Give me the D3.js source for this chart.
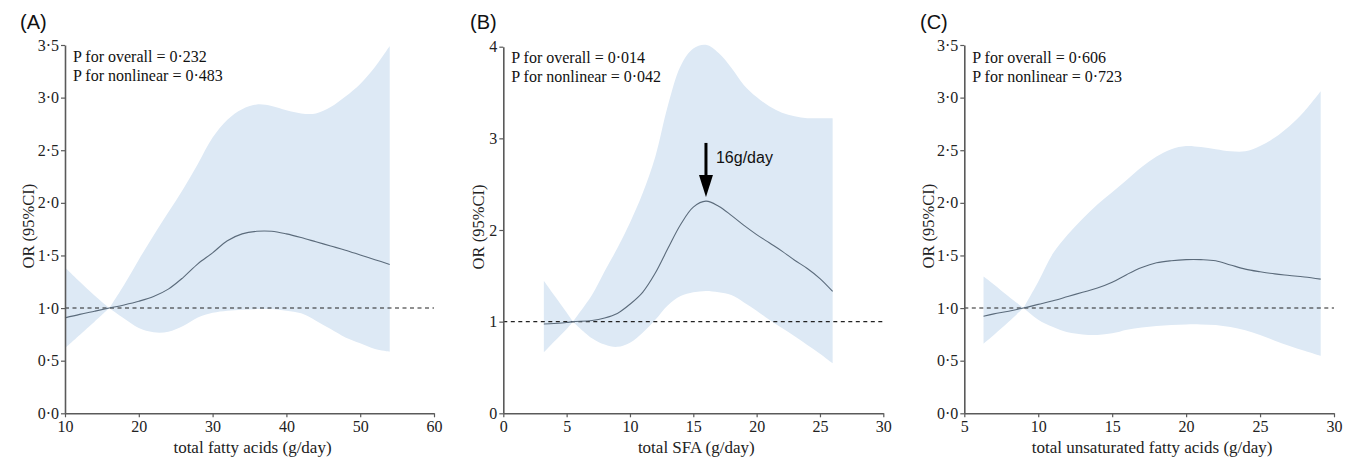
<!DOCTYPE html>
<html><head><meta charset="utf-8">
<script src="https://cdn.jsdelivr.net/npm/d3@7"></script>
<style>
body{margin:0;background:#fff;}
svg{display:block;}
</style></head>
<body>
<svg id="chart" width="1353" height="458"></svg>
<script>
// ---- Data ----
const panelLabels = ["(A)", "(B)", "(C)"];
const xTitles = ["total fatty acids (g/day)", "total SFA (g/day)", "total unsaturated fatty acids (g/day)"];
const yTitle = "OR (95%CI)";
const pOverall = ["P for overall = 0·232", "P for overall = 0·014", "P for overall = 0·606"];
const pNonlinear = ["P for nonlinear = 0·483", "P for nonlinear = 0·042", "P for nonlinear = 0·723"];

const xTicksA = [10, 20, 30, 40, 50, 60];
const yTicksA = [0, 0.5, 1, 1.5, 2, 2.5, 3, 3.5];
const xA = [10, 12, 14, 16, 18, 20, 22, 24, 26, 28, 30, 32, 34, 36, 38, 40, 42, 44, 46, 48, 50, 52, 54];
const orA = [0.907, 0.94, 0.97, 1.0, 1.03, 1.065, 1.11, 1.18, 1.29, 1.42, 1.525, 1.64, 1.705, 1.73, 1.73, 1.705, 1.67, 1.63, 1.59, 1.55, 1.505, 1.46, 1.415];
const upA = [1.385, 1.25, 1.12, 1.0, 1.22, 1.46, 1.69, 1.91, 2.13, 2.37, 2.62, 2.79, 2.89, 2.935, 2.92, 2.88, 2.85, 2.85, 2.91, 3.01, 3.13, 3.29, 3.49];
const loA = [0.62, 0.745, 0.87, 1.0, 0.90, 0.81, 0.77, 0.775, 0.83, 0.91, 0.955, 0.975, 0.985, 0.99, 0.99, 0.975, 0.95, 0.88, 0.80, 0.72, 0.665, 0.61, 0.585];

const xTicksB = [0, 5, 10, 15, 20, 25, 30];
const yTicksB = [0, 1, 2, 3, 4];
const xB = [3.2, 4, 5, 5.5, 7, 8, 9, 10, 11, 12, 13, 14, 15, 16, 17, 18, 19, 20, 21, 22, 23, 24, 25, 26];
const orB = [0.975, 0.98, 0.99, 1.0, 1.012, 1.04, 1.09, 1.19, 1.32, 1.53, 1.80, 2.06, 2.25, 2.315, 2.26, 2.16, 2.05, 1.95, 1.86, 1.77, 1.67, 1.58, 1.47, 1.33];
const upB = [1.446, 1.29, 1.10, 1.0, 1.29, 1.55, 1.80, 2.08, 2.40, 2.80, 3.36, 3.79, 3.98, 4.02, 3.93, 3.77, 3.58, 3.45, 3.35, 3.28, 3.24, 3.22, 3.22, 3.22];
const loB = [0.665, 0.78, 0.92, 1.0, 0.82, 0.75, 0.725, 0.77, 0.88, 1.02, 1.18, 1.28, 1.32, 1.335, 1.32, 1.29, 1.21, 1.12, 1.02, 0.93, 0.84, 0.745, 0.65, 0.545];

const xTicksC = [5, 10, 15, 20, 25, 30];
const yTicksC = [0, 0.5, 1, 1.5, 2, 2.5, 3, 3.5];
const xC = [6.3, 7, 8, 9, 10, 11, 12, 13, 14, 15, 16, 17, 18, 19, 20, 21, 22, 23, 24, 25, 26, 27, 28, 29.1];
const orC = [0.923, 0.945, 0.97, 1.0, 1.035, 1.07, 1.11, 1.15, 1.19, 1.245, 1.32, 1.385, 1.43, 1.45, 1.46, 1.46, 1.45, 1.41, 1.37, 1.345, 1.325, 1.31, 1.295, 1.275];
const upC = [1.30, 1.225, 1.11, 1.0, 1.25, 1.52, 1.70, 1.85, 1.985, 2.1, 2.22, 2.34, 2.44, 2.51, 2.54, 2.53, 2.51, 2.49, 2.49, 2.54, 2.62, 2.73, 2.87, 3.06];
const loC = [0.662, 0.745, 0.87, 1.0, 0.89, 0.82, 0.77, 0.75, 0.745, 0.76, 0.795, 0.815, 0.83, 0.84, 0.845, 0.845, 0.84, 0.82, 0.79, 0.745, 0.69, 0.64, 0.595, 0.547];

const arrowB = {x: 16, from: 2.95, to: 2.36, label: "16g/day"};

// ---- Layout ----
const svg = d3.select("#chart");
const panels = [
  {x: xA, or: orA, up: upA, lo: loA, xd: [10, 60], yd: [0, 3.5], xt: xTicksA, yt: yTicksA, xr: [65, 434], yr: [413.3, 45], fmt: d => d.toFixed(1).replace(".", "·"), lx: 20, ylx: 28, ty: 62},
  {x: xB, or: orB, up: upB, lo: loB, xd: [0, 30], yd: [0, 4], xt: xTicksB, yt: yTicksB, xr: [503.3, 883.3], yr: [413.3, 46.7], fmt: d => String(d), lx: 470, ylx: 478, ty: 63},
  {x: xC, or: orC, up: upC, lo: loC, xd: [5, 30], yd: [0, 3.5], xt: xTicksC, yt: yTicksC, xr: [964.3, 1334], yr: [413.3, 45], fmt: d => d.toFixed(1).replace(".", "·"), lx: 920, ylx: 928, ty: 63}
];

const serif = '"Liberation Serif","Times New Roman",serif';
const sans = '"Liberation Sans",Arial,sans-serif';

panels.forEach((p, i) => {
  const g = svg.append("g");
  const xs = d3.scaleLinear().domain(p.xd).range(p.xr);
  const ys = d3.scaleLinear().domain(p.yd).range(p.yr);
  const pts = p.x.map((x, k) => ({x, or: p.or[k], up: p.up[k], lo: p.lo[k]}));
  const pinch = pts.findIndex(d => d.up === d.lo);
  const segs = [pts.slice(0, pinch + 1), pts.slice(pinch)];
  const area = d3.area().x(d => xs(d.x)).y0(d => ys(d.lo)).y1(d => ys(d.up)).curve(d3.curveCatmullRom.alpha(0.5));
  segs.forEach(s => g.append("path").attr("d", area(s)).attr("fill", "#dde9f5").attr("stroke", "none"));

  // reference line
  g.append("line").attr("x1", xs(p.xd[0])).attr("x2", xs(p.xd[1]))
    .attr("y1", ys(1)).attr("y2", ys(1))
    .attr("stroke", "#222").attr("stroke-width", 1.1).attr("stroke-dasharray", "4,3.5");

  // fit line
  const line = d3.line().x(d => xs(d.x)).y(d => ys(d.or)).curve(d3.curveCatmullRom.alpha(0.5));
  g.append("path").attr("d", line(pts)).attr("fill", "none").attr("stroke", "#5b6b7b").attr("stroke-width", 1.1);

  // axes
  const xa = g.append("g").attr("transform", `translate(0,${p.yr[0]})`)
    .call(d3.axisBottom(xs).tickValues(p.xt).tickSize(4).tickSizeOuter(0).tickPadding(3));
  const ya = g.append("g").attr("transform", `translate(${p.xr[0]},0)`)
    .call(d3.axisLeft(ys).tickValues(p.yt).tickFormat(p.fmt).tickSize(4).tickSizeOuter(0).tickPadding(2));
  [xa, ya].forEach(a => {
    a.select(".domain").attr("stroke", "#5a5a5a").attr("stroke-width", 1.6);
    a.selectAll(".tick line").attr("stroke", "#5a5a5a").attr("stroke-width", 1.2);
    a.selectAll(".tick text").style("font-family", serif).style("font-size", "16px").attr("fill", "#222");
  });

  // titles
  g.append("text").attr("x", (p.xr[0] + p.xr[1]) / 2 + 3).attr("y", 453).attr("text-anchor", "middle")
    .style("font-family", serif).style("font-size", "17px").attr("fill", "#222").text(xTitles[i]);
  g.append("text").attr("transform", `translate(${p.ylx + 6},${(p.yr[0] + p.yr[1]) / 2 - 3}) rotate(-90)`)
    .attr("text-anchor", "middle").style("font-family", serif).style("font-size", "16.5px").attr("fill", "#222").text(yTitle);
  g.append("text").attr("x", p.lx).attr("y", 29).style("font-family", sans).style("font-size", "20px").attr("fill", "#111").text(panelLabels[i]);
  g.append("text").attr("x", p.xr[0] + 8).attr("y", p.ty).style("font-family", serif).style("font-size", "16px").attr("fill", "#111").text(pOverall[i]);
  g.append("text").attr("x", p.xr[0] + 8).attr("y", p.ty + 19).style("font-family", serif).style("font-size", "16px").attr("fill", "#111").text(pNonlinear[i]);

  if (i === 1) {
    const ax = xs(arrowB.x), y0 = ys(arrowB.from), y1 = ys(arrowB.to);
    g.append("line").attr("x1", ax).attr("x2", ax).attr("y1", y0).attr("y2", y1 - 18)
      .attr("stroke", "#000").attr("stroke-width", 3);
    g.append("path").attr("d", `M${ax - 7},${y1 - 22}L${ax + 7},${y1 - 22}L${ax},${y1}Z`).attr("fill", "#000");
    g.append("text").attr("x", ax + 10).attr("y", ys(arrowB.from) + 20).style("font-family", sans).style("font-size", "16px").attr("fill", "#111").text(arrowB.label);
  }
});
</script>
</body></html>
